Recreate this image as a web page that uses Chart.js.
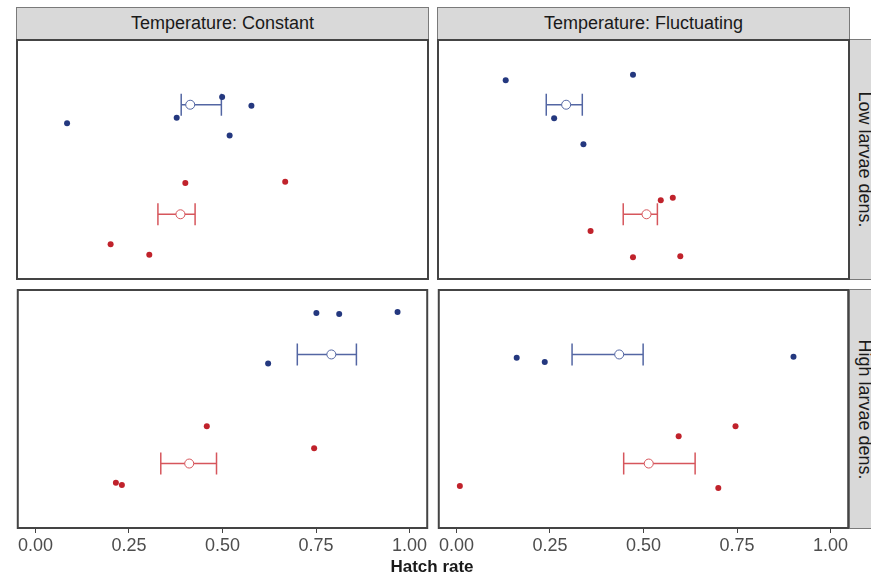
<!DOCTYPE html>
<html>
<head>
<meta charset="utf-8">
<script src="https://cdn.jsdelivr.net/npm/chart.js@4"></script>
<style>
  body { margin: 0; background: #fff; overflow: hidden; }
  #wrap { position: relative; width: 871px; height: 576px; font-family: "Liberation Sans", Arial, sans-serif; }
  canvas { position: absolute; }
  .strip { position: absolute; box-sizing: border-box; background: #d9d9d9; border: 1px solid #7a7a7a;
           color: #1a1a1a; font-size: 18px; display: flex; align-items: center; justify-content: center; }
  .strip.right span { transform: rotate(90deg); white-space: nowrap; }
  #xtitle { position: absolute; left: 0; width: 864px; top: 557px; text-align: center; font-size: 17px; font-weight: bold; color: #1a1a1a; }
</style>
</head>
<body>
<div id="wrap">
  <div class="strip" style="left:16px;top:7px;width:413px;height:33px;" id="col0"></div>
  <div class="strip" style="left:437px;top:7px;width:413px;height:33px;" id="col1"></div>
  <div class="strip right" style="left:849px;top:39px;width:30px;height:241px;"><span id="row0"></span></div>
  <div class="strip right" style="left:849px;top:289px;width:30px;height:240px;"><span id="row1"></span></div>
  <canvas id="p00" width="413" height="241" style="left:16px;top:39px;"></canvas>
  <canvas id="p01" width="413" height="241" style="left:437px;top:39px;"></canvas>
  <canvas id="p10" width="413" height="270" style="left:16px;top:289px;"></canvas>
  <canvas id="p11" width="413" height="270" style="left:437px;top:289px;"></canvas>
  <div id="xtitle"></div>
</div>
<script>
// labels
const colTitles = ['Temperature: Constant', 'Temperature: Fluctuating'];
const rowTitles = ['Low larvae dens.', 'High larvae dens.'];
const xTitle = 'Hatch rate';
const xTicks = [0, 0.25, 0.5, 0.75, 1];

// hatch rate (x) and jittered group position (y: 2 = blue group, 1 = red group)
// constant temperature, low density
const conLowBlueX = [0.086, 0.378, 0.499, 0.577, 0.519];
const conLowBlueY = [1.83, 1.88, 2.07, 1.99, 1.72];
const conLowRedX = [0.401, 0.667, 0.202, 0.305];
const conLowRedY = [1.285, 1.297, 0.726, 0.631];
// fluctuating temperature, low density
const fluLowBlueX = [0.133, 0.472, 0.262, 0.340];
const fluLowBlueY = [2.223, 2.274, 1.876, 1.639];
const fluLowRedX = [0.546, 0.578, 0.359, 0.472, 0.598];
const fluLowRedY = [1.127, 1.151, 0.847, 0.607, 0.616];
// constant temperature, high density
const conHighBlueX = [0.751, 0.812, 0.968, 0.622];
const conHighBlueY = [2.38, 2.371, 2.389, 1.916];
const conHighRedX = [0.458, 0.745, 0.215, 0.231];
const conHighRedY = [1.341, 1.14, 0.825, 0.803];
// fluctuating temperature, high density
const fluHighBlueX = [0.161, 0.236, 0.901];
const fluHighBlueY = [1.97, 1.931, 1.98];
const fluHighRedX = [0.746, 0.594, 0.009, 0.700];
const fluHighRedY = [1.341, 1.25, 0.794, 0.776];

// group means with interval [mean, low, high]
const conLowBlueMean = [0.414, 0.390, 0.497];
const conLowRedMean = [0.388, 0.328, 0.427];
const fluLowBlueMean = [0.294, 0.241, 0.337];
const fluLowRedMean = [0.508, 0.446, 0.537];
const conHighBlueMean = [0.791, 0.700, 0.858];
const conHighRedMean = [0.411, 0.335, 0.484];
const fluHighBlueMean = [0.435, 0.309, 0.499];
const fluHighRedMean = [0.514, 0.447, 0.638];

document.getElementById('col0').textContent = colTitles[0];
document.getElementById('col1').textContent = colTitles[1];
document.getElementById('row0').textContent = rowTitles[0];
document.getElementById('row1').textContent = rowTitles[1];
document.getElementById('xtitle').textContent = xTitle;

const BLUE_PT = '#24387f';
const RED_PT = '#c0222b';
const BLUE_BAR = '#5366a3';
const RED_BAR = '#d6565c';

const panelBorder = {
  id: 'panelBorder',
  afterDraw(chart) {
    const a = chart.chartArea;
    const ctx = chart.ctx;
    ctx.save();
    ctx.strokeStyle = '#444';
    ctx.lineWidth = 2;
    ctx.strokeRect(a.left + 1, a.top + 1, a.right - a.left - 2, a.bottom - a.top - 2);
    ctx.restore();
  }
};

function pts(xs, ys) {
  return xs.map((x, i) => ({x: x, y: ys[i]}));
}

function barSet(m, y, color) {
  return {
    data: [{x: m[1], y: y}, {x: m[2], y: y}],
    showLine: true,
    borderColor: color,
    borderWidth: 1.5,
    pointStyle: 'line',
    pointRotation: 90,
    pointRadius: 11,
    pointBorderColor: color,
    pointBorderWidth: 1.5,
  };
}

function meanSet(m, y, color) {
  return {
    data: [{x: m[0], y: y}],
    pointStyle: 'circle',
    pointRadius: 4.5,
    pointBackgroundColor: '#fff',
    pointBorderColor: color,
    pointBorderWidth: 1,
  };
}

function dotSet(xs, ys, color) {
  return {
    data: pts(xs, ys),
    pointRadius: 3,
    pointBackgroundColor: color,
    pointBorderWidth: 0,
  };
}

function makePanel(id, showAxis, bx, by, rx, ry, bMean, rMean) {
  new Chart(document.getElementById(id), {
    type: 'scatter',
    data: {
      datasets: [
        dotSet(bx, by, BLUE_PT),
        dotSet(rx, ry, RED_PT),
        meanSet(bMean, 2, BLUE_BAR),
        meanSet(rMean, 1, RED_BAR),
        barSet(bMean, 2, BLUE_BAR),
        barSet(rMean, 1, RED_BAR),
      ],
    },
    options: {
      responsive: false,
      animation: false,
      events: [],
      layout: {padding: 0, autoPadding: false},
      plugins: {legend: {display: false}, tooltip: {enabled: false}},
      scales: {
        x: {
          type: 'linear',
          min: -0.05,
          max: 1.05,
          display: showAxis,
          afterBuildTicks(scale) {
            scale.ticks = xTicks.map(v => ({value: v}));
          },
          afterFit(scale) {
            if (showAxis) scale.height = 30;
          },
          border: {display: false},
          grid: {drawOnChartArea: false, drawTicks: true, tickLength: 4, color: '#444', lineWidth: 1},
          ticks: {
            padding: 2,
            color: '#4d4d4d',
            font: {family: '"Liberation Sans", Arial, sans-serif', size: 18},
            callback: v => Number(v).toFixed(2),
          },
        },
        y: {type: 'linear', min: 0.4, max: 2.6, display: false},
      },
    },
    plugins: [panelBorder],
  });
}

makePanel('p00', false, conLowBlueX, conLowBlueY, conLowRedX, conLowRedY, conLowBlueMean, conLowRedMean);
makePanel('p01', false, fluLowBlueX, fluLowBlueY, fluLowRedX, fluLowRedY, fluLowBlueMean, fluLowRedMean);
makePanel('p10', true, conHighBlueX, conHighBlueY, conHighRedX, conHighRedY, conHighBlueMean, conHighRedMean);
makePanel('p11', true, fluHighBlueX, fluHighBlueY, fluHighRedX, fluHighRedY, fluHighBlueMean, fluHighRedMean);
</script>
</body>
</html>
